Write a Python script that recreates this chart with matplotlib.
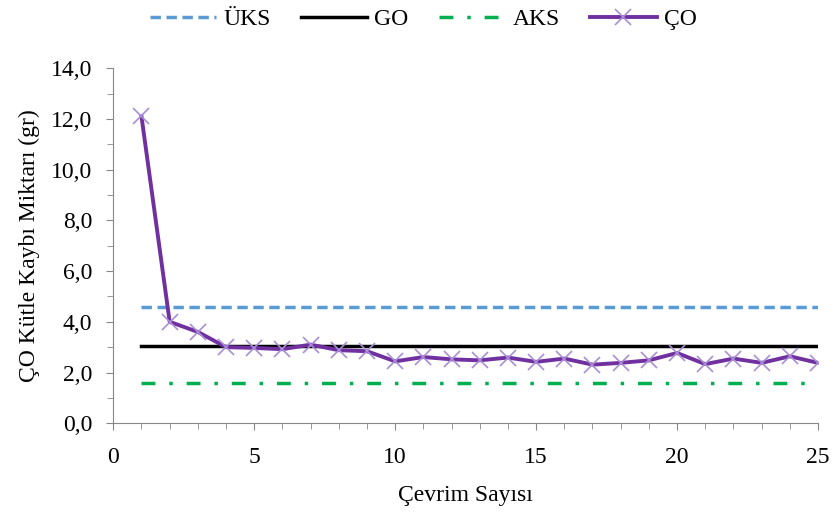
import numpy as np
import matplotlib.pyplot as plt
from matplotlib.ticker import MultipleLocator, FuncFormatter

plt.rcParams['font.family'] = ['Liberation Serif', 'DejaVu Serif']

cevrim = np.arange(1, 26)
co = [12.1, 4.0, 3.6, 3.0, 2.97, 2.92, 3.1, 2.88, 2.84, 2.44, 2.61, 2.52, 2.48,
      2.59, 2.42, 2.55, 2.31, 2.38, 2.48, 2.77, 2.33, 2.55, 2.38, 2.64, 2.38]
uks = 4.6
go = 3.05
aks = 1.6

fig = plt.figure(figsize=(8.33, 5.13), dpi=100)
ax = fig.add_axes([0.136, 0.175, 0.846, 0.692])

x_ref = [1, 25]
ax.plot(x_ref, [uks, uks], color='#5B9BD5', lw=2.5, ls=(0, (3, 1.6)), label='ÜKS')
ax.plot(x_ref, [go, go], color='black', lw=2.5, label='GO')
ax.plot(x_ref, [aks, aks], color='#00B050', lw=2.5, ls=(0, (4, 4, 1, 4)), label='AKS')
ax.plot(cevrim, co, color='#7030A0', lw=2.8, marker='x', ms=12, mew=1.2,
        mec='#A98ED6', label='ÇO')

ax.set_xlim(0, 25)
ax.set_ylim(0, 14)
ax.xaxis.set_major_locator(MultipleLocator(5))
ax.xaxis.set_minor_locator(MultipleLocator(1))
ax.yaxis.set_major_locator(MultipleLocator(2))
ax.yaxis.set_minor_locator(MultipleLocator(1))
ax.yaxis.set_major_formatter(FuncFormatter(lambda v, p: f'{v:.1f}'.replace('.', ',')))

for s in ['top', 'right']:
    ax.spines[s].set_visible(False)
for s in ['left', 'bottom']:
    ax.spines[s].set_color('#888888')
ax.tick_params(which='both', colors='#888888', labelcolor='black', labelsize=17)
ax.tick_params(which='major', length=5)
ax.tick_params(which='minor', length=4)
ax.tick_params(axis='x', which='major', pad=12)
ax.tick_params(axis='y', which='major', pad=10)

ax.set_xlabel('Çevrim Sayısı', fontsize=17, labelpad=12)
ax.set_ylabel('ÇO Kütle Kaybı Miktarı (gr)', fontsize=17, labelpad=8)

fig.legend(loc='upper center', bbox_to_anchor=(0.508, 1.025), ncol=4, frameon=False,
           fontsize=17, handlelength=2.8, columnspacing=1.3, handletextpad=0.3)

fig.savefig('out.png', dpi=100)
